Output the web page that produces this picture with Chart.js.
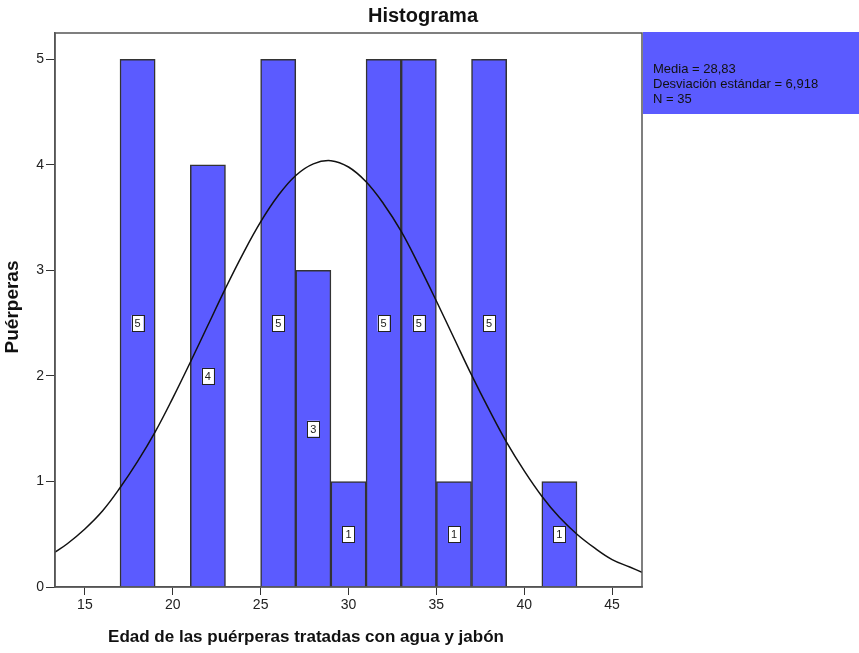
<!DOCTYPE html>
<html>
<head>
<meta charset="utf-8">
<script src="https://cdn.jsdelivr.net/npm/chart.js@4.4.1/dist/chart.umd.min.js"></script>
<style>
  html, body { margin: 0; padding: 0; background: #fff; }
  #wrap { width: 859px; height: 653px; }
</style>
</head>
<body>
<div id="wrap"><canvas id="myChart" width="859" height="653"></canvas></div>
<script>
// histogram bins (center of each 2-year bin) and counts
const binCenters = [18, 22, 26, 28, 30, 32, 34, 36, 38, 42];
const counts     = [5, 4, 5, 3, 1, 5, 5, 1, 5, 1];

// fitted normal curve
const curveX = [13.3, 14, 15, 16, 17, 18, 19, 20, 21, 22, 23, 24, 25, 26, 27, 28, 29, 30,
                31, 32, 33, 34, 35, 36, 37, 38, 39, 40, 41, 42, 43, 44, 45, 46, 46.7];
const curveY = [0.33, 0.41, 0.55, 0.72, 0.94, 1.19, 1.47, 1.79, 2.13, 2.48, 2.83, 3.16, 3.46, 3.71,
                3.90, 4.01, 4.04, 3.98, 3.84, 3.63, 3.37, 3.05, 2.71, 2.36, 2.01, 1.68, 1.37, 1.10,
                0.86, 0.66, 0.50, 0.37, 0.26, 0.19, 0.14];

const yTicks = [0, 1, 2, 3, 4, 5];
const xTicks = [15, 20, 25, 30, 35, 40, 45];
const statLines = ['Media = 28,83', 'Desviación estándar = 6,918', 'N = 35'];

const chartTitle = 'Histograma';
const xTitle = 'Edad de las puérperas tratadas con agua y jabón';
const yTitle = 'Puérperas';

const barColor = '#5b5bff';
const font = '"Liberation Sans", Arial, sans-serif';

const ctx = document.getElementById('myChart');

const extras = {
    id: 'extras',
    beforeDraw(chart) {
        const c = chart.ctx;
        c.save();
        c.fillStyle = '#fff';
        c.fillRect(0, 0, chart.width, chart.height);
        c.restore();
    },
    afterDatasetsDraw(chart) {
        const c = chart.ctx;
        const a = chart.chartArea;
        const ys = chart.scales.y;
        const meta = chart.getDatasetMeta(1);
        c.save();
        // count boxes in the middle of each bar
        c.font = '11px ' + font;
        c.textAlign = 'center';
        c.textBaseline = 'middle';
        meta.data.forEach((bar, i) => {
            const cy = ys.getPixelForValue(counts[i] / 2);
            const w = 12, h = 16;
            c.fillStyle = '#fff';
            c.fillRect(bar.x - w / 2, cy - h / 2, w, h);
            c.strokeStyle = '#222';
            c.lineWidth = 1;
            c.strokeRect(Math.round(bar.x - w / 2) + 0.5, Math.round(cy - h / 2) + 0.5, w, h);
            c.fillStyle = '#222';
            c.fillText(String(counts[i]), bar.x, cy + 1);
        });
        // frame
        c.strokeStyle = '#555';
        c.lineWidth = 1.5;
        c.strokeRect(a.left, a.top, a.right - a.left, a.bottom - a.top);
        // stats box
        c.fillStyle = barColor;
        c.fillRect(a.right + 1, a.top - 1, chart.width - a.right - 1, 82);
        c.fillStyle = '#111';
        c.font = '13px ' + font;
        c.textAlign = 'left';
        c.textBaseline = 'top';
        statLines.forEach((t, i) => c.fillText(t, a.right + 11, 63 + i * 15));
        // titles
        c.font = 'bold 20px ' + font;
        c.textAlign = 'center';
        c.textBaseline = 'middle';
        c.fillText(chartTitle, 423, 16);
        c.font = 'bold 17px ' + font;
        c.fillText(xTitle, 306, 637);
        c.font = 'bold 19px ' + font;
        c.translate(13, 307);
        c.rotate(-Math.PI / 2);
        c.fillText(yTitle, 0, 0);
        c.restore();
    }
};

new Chart(ctx, {
    type: 'bar',
    data: {
        datasets: [{
            type: 'line',
            data: curveX.map((x, i) => ({ x, y: curveY[i] })),
            borderColor: '#111',
            borderWidth: 1.5,
            pointRadius: 0,
            tension: 0.4,
            order: 0
        }, {
            type: 'bar',
            data: binCenters.map((x, i) => ({ x, y: counts[i] })),
            backgroundColor: barColor,
            borderColor: '#333',
            borderWidth: 1.5,
            barPercentage: 1,
            categoryPercentage: 1,
            grouped: false,
            order: 1
        }]
    },
    options: {
        responsive: false,
        animation: false,
        layout: { padding: { left: 0, top: 33, right: 217, bottom: 0 } },
        scales: {
            x: {
                type: 'linear',
                min: 13.3,
                max: 46.7,
                offset: false,
                afterFit(s) { s.height = 66; },
                afterBuildTicks(s) { s.ticks = xTicks.map(v => ({ value: v })); },
                border: { color: '#555', width: 1.5 },
                grid: { offset: false, drawOnChartArea: false, tickLength: 8, color: '#333' },
                ticks: { color: '#222', font: { family: font, size: 14 }, padding: 2 }
            },
            y: {
                min: 0,
                max: 5.25,
                afterFit(s) { s.width = 55; },
                afterBuildTicks(s) { s.ticks = yTicks.map(v => ({ value: v })); },
                border: { color: '#555', width: 1.5 },
                grid: { drawOnChartArea: false, tickLength: 9, color: '#333' },
                ticks: { color: '#222', font: { family: font, size: 14 }, padding: 2 }
            }
        },
        plugins: {
            legend: { display: false },
            tooltip: { enabled: false }
        }
    },
    plugins: [extras]
});
</script>
</body>
</html>
